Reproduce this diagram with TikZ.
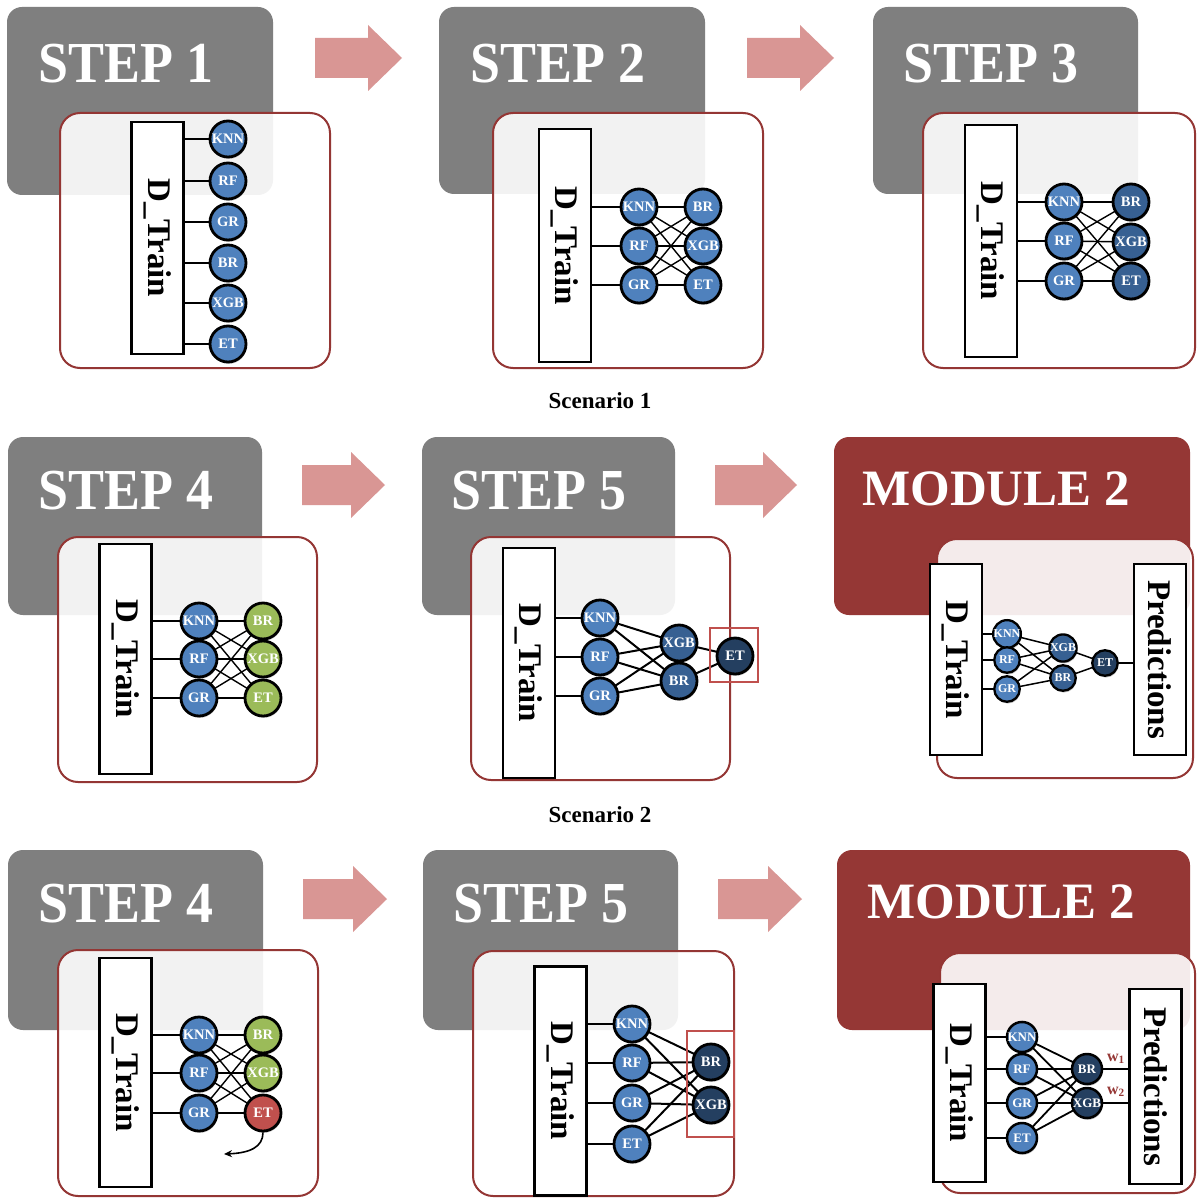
\documentclass[tikz,border=0pt]{standalone}
\usepackage{fontspec}
\setmainfont{Liberation Serif}
\usetikzlibrary{shadows,arrows.meta}
\pgfdeclarelayer{panels}
\pgfdeclarelayer{wires}
\pgfsetlayers{panels,wires,main}

\definecolor{stepgray}{HTML}{7F7F7F}
\definecolor{modred}{HTML}{953735}
\definecolor{framered}{HTML}{943634}
\definecolor{nblue}{HTML}{4F81BD}
\definecolor{nmid}{HTML}{376092}
\definecolor{ndark}{HTML}{243F60}
\definecolor{ngreen}{HTML}{9BBB59}
\definecolor{nred}{HTML}{C0504D}
\definecolor{arrowpink}{HTML}{D99694}

% wide block arrow between two stages: start x, tip x, middle y
\newcommand\stagearrow[3]{%
  \fill[arrowpink] (#1,#3-20) -- (#2-34,#3-20) -- (#2-34,#3-33) -- (#2,#3)
    -- (#2-34,#3+33) -- (#2-34,#3+20) -- (#1,#3+20) -- cycle;}

\tikzset{
  stepbox/.style={fill=stepgray, rounded corners=15pt},
  modbox/.style={fill=modred, rounded corners=15pt},
  panel/.style={draw=framered, line width=2pt, fill=white, fill opacity=0.9, rounded corners=20pt},
  steptitle/.style={anchor=base west, inner sep=0pt, text=white, xscale=0.93,
    font=\bfseries\fontsize{58}{58}\selectfont},
  modtitle/.style={anchor=base west, inner sep=0pt, text=white,
    font=\bfseries\fontsize{51}{51}\selectfont},
  databar/.style={draw=black, line width=2.7pt, fill=white, rotate=-90, inner sep=0pt,
    minimum height=52pt, font=\bfseries\fontsize{33}{33}\selectfont},
  model/.style={circle, draw=black, line width=2.8pt, inner sep=0pt, minimum size=36pt,
    text=white, fill=nblue, font=\bfseries\fontsize{14.5}{14.5}\selectfont,
    drop shadow={shadow xshift=0.8pt, shadow yshift=-1.8pt, fill=black, opacity=0.25}},
  smodel/.style={model, minimum size=25.5pt, line width=2.3pt, font=\bfseries\fontsize{12}{12}\selectfont},
  mmodel/.style={model, minimum size=30pt, line width=2.5pt, font=\bfseries\fontsize{13}{13}\selectfont},
  wire/.style={draw=black, line width=1.8pt},
  hilite/.style={draw=nred, line width=2.2pt},
  caption/.style={font=\bfseries\fontsize{23}{23}\selectfont},
  weight/.style={text=modred, inner sep=0pt, font=\bfseries\fontsize{16}{16}\selectfont},
}

\begin{document}
\begin{tikzpicture}[x=1pt,y=-1pt]

\begin{pgfonlayer}{panels}
\path[use as bounding box, fill=white] (0,0) rectangle (1197,1198);

% ---------------- title boxes ----------------
\fill[stepbox] (7,7) rectangle (273,195);
\fill[stepbox] (439,7) rectangle (705,194);
\fill[stepbox] (873,7) rectangle (1138,194);
\fill[stepbox] (8,437) rectangle (262,615);
\fill[stepbox] (422,437) rectangle (675,615);
\fill[modbox] (834,437) rectangle (1190,615);
\fill[stepbox] (8,850) rectangle (263,1030);
\fill[stepbox] (423,850) rectangle (678,1030);
\fill[modbox] (837,850) rectangle (1190,1030);

\node[steptitle] (t1) at (38,83) {STEP 1};
\node[steptitle] (t2) at (470,83) {STEP 2};
\node[steptitle] (t3) at (903,83) {STEP 3};
\node[steptitle] (t4) at (38,509) {STEP 4};
\node[steptitle] (t5) at (451,509) {STEP 5};
\node[modtitle] (t6) at (862,505) {MODULE 2};
\node[steptitle] (t7) at (38,922) {STEP 4};
\node[steptitle] (t8) at (453,922) {STEP 5};
\node[modtitle] (t9) at (867,918) {MODULE 2};

% ---------------- content panels ----------------
\filldraw[panel] (60,113) rectangle (330,368);
\filldraw[panel] (493,113) rectangle (763,368);
\filldraw[panel] (923,113) rectangle (1195,368);
\filldraw[panel] (58,537) rectangle (317,782);
\filldraw[panel] (471,537) rectangle (730,780);
\filldraw[panel] (937,539) rectangle (1193,778);
\filldraw[panel] (58,950) rectangle (318,1196);
\filldraw[panel] (473,951) rectangle (734,1196);
\filldraw[panel] (940,953) rectangle (1195,1193);

% ---------------- stage arrows ----------------
\stagearrow{315}{402}{58}
\stagearrow{747}{834}{58}
\stagearrow{302}{385}{485}
\stagearrow{715}{797}{485}
\stagearrow{303}{387}{899}
\stagearrow{718}{802}{899}
\end{pgfonlayer}

% ---------------- captions ----------------
\node[caption] (cap1) at (600,401) {Scenario 1};
\node[caption] (cap2) at (600,815) {Scenario 2};

% ================= STEP 1 =================
\node[databar, minimum width=232pt] (s1d) at (157.5,238) {D\_Train};
\node[model] (s1knn) at (228,139) {KNN};
\node[model] (s1rf)  at (228,181) {RF};
\node[model] (s1gr)  at (228,222) {GR};
\node[model] (s1br)  at (228,263) {BR};
\node[model] (s1xgb) at (228,303) {XGB};
\node[model] (s1et)  at (228,344) {ET};

% ================= STEP 2 =================
\node[databar, minimum width=233pt] (s2d) at (565,245.5) {D\_Train};
\node[model] (s2knn) at (639,207) {KNN};
\node[model] (s2rf)  at (639,246) {RF};
\node[model] (s2gr)  at (639,285) {GR};
\node[model] (s2br)  at (703,207) {BR};
\node[model] (s2xgb) at (703,246) {XGB};
\node[model] (s2et)  at (703,285) {ET};

% ================= STEP 3 =================
\node[databar, minimum width=232pt] (s3d) at (991,241) {D\_Train};
\node[model] (s3knn) at (1064,202) {KNN};
\node[model] (s3rf)  at (1064,241) {RF};
\node[model] (s3gr)  at (1064,281) {GR};
\node[model, fill=nmid] (s3br)  at (1131,202) {BR};
\node[model, fill=nmid] (s3xgb) at (1131,242) {XGB};
\node[model, fill=nmid] (s3et)  at (1131,281) {ET};

% ================= STEP 4 (scenario 1) =================
\node[databar, minimum width=230pt] (s4d) at (125.5,659) {D\_Train};
\node[model] (s4knn) at (199,621) {KNN};
\node[model] (s4rf)  at (199,659) {RF};
\node[model] (s4gr)  at (199,698) {GR};
\node[model, fill=ngreen] (s4br)  at (263,621) {BR};
\node[model, fill=ngreen] (s4xgb) at (263,659) {XGB};
\node[model, fill=ngreen] (s4et)  at (263,698) {ET};

% ================= STEP 5 (scenario 1) =================
\node[databar, minimum width=230pt] (s5d) at (529,663) {D\_Train};
\node[model] (s5knn) at (600,618) {KNN};
\node[model] (s5rf)  at (600,657) {RF};
\node[model] (s5gr)  at (600,696) {GR};
\node[model, fill=nmid] (s5xgb) at (679,643) {XGB};
\node[model, fill=nmid] (s5br)  at (679,681) {BR};
\node[model, fill=ndark] (s5et) at (735,656) {ET};
\draw[hilite] (710,628) rectangle (758,682);

% ================= MODULE 2 (scenario 1) =================
\node[databar, minimum width=191pt] (m1d) at (956,659.5) {D\_Train};
\node[databar, minimum width=191pt] (m1p) at (1160,659.5) {Predictions};
\node[smodel] (m1knn) at (1007,634) {KNN};
\node[smodel] (m1rf)  at (1007,660) {RF};
\node[smodel] (m1gr)  at (1007,689) {GR};
\node[smodel, fill=nmid] (m1xgb) at (1063,648) {XGB};
\node[smodel, fill=nmid] (m1br)  at (1063,678) {BR};
\node[smodel, fill=ndark] (m1et) at (1105,663) {ET};

% ================= STEP 4 (scenario 2) =================
\node[databar, minimum width=229pt] (s7d) at (125.5,1072.5) {D\_Train};
\node[model] (s7knn) at (199,1035) {KNN};
\node[model] (s7rf)  at (199,1073) {RF};
\node[model] (s7gr)  at (199,1113) {GR};
\node[model, fill=ngreen] (s7br)  at (263,1035) {BR};
\node[model, fill=ngreen] (s7xgb) at (263,1073) {XGB};
\node[model, fill=nred]   (s7et)  at (263,1113) {ET};
\coordinate (s7drop) at (224,1154);
\draw[line width=1.6pt, -{Stealth[length=8pt,width=7pt]}]
  (s7et.south) .. controls (263,1147) and (250,1153) .. (s7drop);

% ================= STEP 5 (scenario 2) =================
\node[databar, minimum width=229pt] (s8d) at (560.5,1081) {D\_Train};
\node[model] (s8knn) at (632,1024) {KNN};
\node[model] (s8rf)  at (632,1063) {RF};
\node[model] (s8gr)  at (632,1103) {GR};
\node[model] (s8et)  at (632,1144) {ET};
\node[model, fill=ndark] (s8br)  at (711,1062) {BR};
\node[model, fill=ndark] (s8xgb) at (711,1105) {XGB};
\draw[hilite] (687,1031) rectangle (734,1137);

% ================= MODULE 2 (scenario 2) =================
\node[databar, minimum width=198pt] (m2d) at (959.5,1083) {D\_Train};
\node[databar, minimum width=195pt] (m2p) at (1155.5,1086.5) {Predictions};
\node[mmodel] (m2knn) at (1022,1037) {KNN};
\node[mmodel] (m2rf)  at (1022,1069) {RF};
\node[mmodel] (m2gr)  at (1022,1103) {GR};
\node[mmodel] (m2et)  at (1022,1138) {ET};
\node[mmodel, fill=ndark] (m2br)  at (1087,1069) {BR};
\node[mmodel, fill=ndark] (m2xgb) at (1087,1103) {XGB};
\node[weight] (m2w1) at (1116,1059) {w\textsubscript{1}};
\node[weight] (m2w2) at (1116,1092) {w\textsubscript{2}};

% ---------------- connections ----------------
\begin{pgfonlayer}{wires}
\foreach \a in {knn,rf,gr,br,xgb,et}
  \draw[wire] (s1d.center |- s1\a.center) -- (s1\a.center);

\foreach \a in {knn,rf,gr}{
  \draw[wire] (s2d.center |- s2\a.center) -- (s2\a.center);
  \draw[wire] (s3d.center |- s3\a.center) -- (s3\a.center);
  \draw[wire] (s4d.center |- s4\a.center) -- (s4\a.center);
  \draw[wire] (s7d.center |- s7\a.center) -- (s7\a.center);
  \foreach \b in {br,xgb,et}{
    \draw[wire, line width=1.4pt] (s2\a.center) -- (s2\b.center);
    \draw[wire, line width=1.4pt] (s3\a.center) -- (s3\b.center);
    \draw[wire, line width=1.4pt] (s4\a.center) -- (s4\b.center);
    \draw[wire, line width=1.4pt] (s7\a.center) -- (s7\b.center);
  }
  \draw[wire] (s5d.center |- s5\a.center) -- (s5\a.center);
  \draw[wire] (m1d.center |- m1\a.center) -- (m1\a.center);
  \foreach \b in {xgb,br}{
    \draw[wire, line width=2pt] (s5\a.center) -- (s5\b.center);
    \draw[wire, line width=1.5pt] (m1\a.center) -- (m1\b.center);
  }
}
\foreach \b in {xgb,br}{
  \draw[wire, line width=2pt] (s5\b.center) -- (s5et.center);
  \draw[wire, line width=1.5pt] (m1\b.center) -- (m1et.center);
}
\draw[wire] (m1et.center) -- (m1p.center |- m1et.center);

\foreach \a in {knn,rf,gr,et}{
  \draw[wire] (s8d.center |- s8\a.center) -- (s8\a.center);
  \draw[wire] (m2d.center |- m2\a.center) -- (m2\a.center);
  \foreach \b in {br,xgb}{
    \draw[wire, line width=2pt] (s8\a.center) -- (s8\b.center);
    \draw[wire, line width=1.8pt] (m2\a.center) -- (m2\b.center);
  }
}
\draw[wire] (m2br.center) -- (m2p.center |- m2br.center);
\draw[wire] (m2xgb.center) -- (m2p.center |- m2xgb.center);
\end{pgfonlayer}

\end{tikzpicture}
\end{document}
